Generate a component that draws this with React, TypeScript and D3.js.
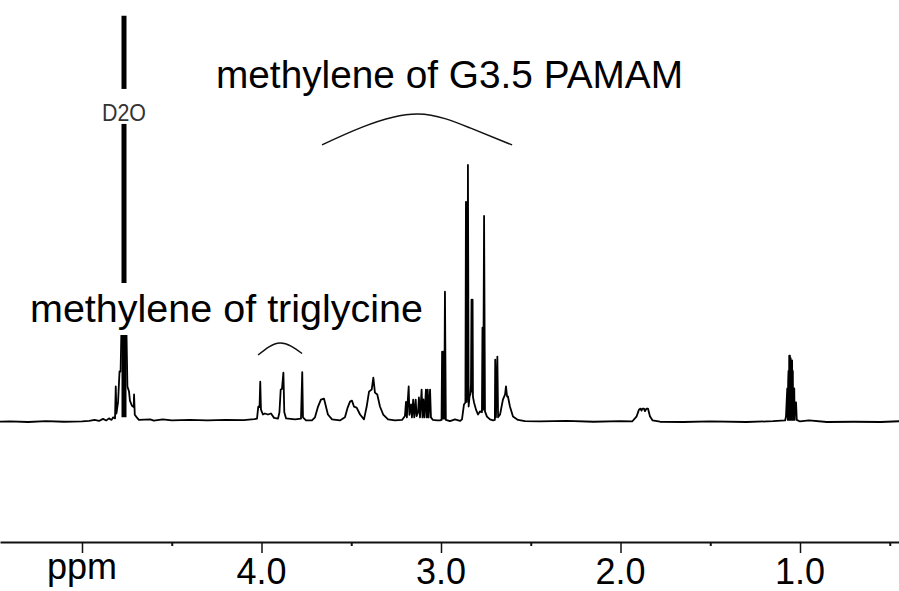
import React, { useEffect, useRef } from 'react';
import * as d3 from 'd3';

type Pt = [number, number];

// [chemical shift (ppm), intensity] — intensity scaled so the tallest PAMAM line = 100
const downfieldTrace: Pt[] = [
  [5.46, 0.3], [5.40, 0.4], [5.30, 0.2], [5.20, 0.5], [5.10, 0.3], [5.00, 0.4], [4.96, 0.6],
  [4.93, 1.0], [4.905, 0.6], [4.883, 1.4], [4.865, 0.8], [4.850, 1.6], [4.835, 1.0], [4.827, 2.0],
  [4.816, 1.6], [4.812, 14.0], [4.808, 3.5], [4.799, 8.0], [4.791, 19.8], [4.785, 19.8],
  [4.781, 34.1], [4.752, 34.1], [4.747, 14.0], [4.738, 12.0], [4.733, 8.5], [4.722, 6.5],
  [4.712, 6.0], [4.710, 10.9], [4.706, 3.0], [4.695, 2.0], [4.683, 1.0], [4.62, 1.2], [4.60, 0.7],
  [4.55, 1.2], [4.50, 0.8], [4.40, 1.0], [4.30, 0.8], [4.20, 1.0], [4.10, 0.9], [4.04, 1.3],
];

const triglycineTrace: Pt[] = [
  [4.025, 1.5], [4.018, 6.2], [4.011, 6.0], [4.007, 15.9], [4.003, 5.0], [3.992, 3.1],
  [3.981, 3.5], [3.964, 3.1], [3.947, 3.5], [3.930, 1.8], [3.908, 1.5], [3.900, 4.0],
  [3.893, 12.8], [3.886, 13.0], [3.878, 19.4], [3.873, 4.0], [3.863, 1.6], [3.813, 1.2],
  [3.780, 1.5], [3.773, 19.6], [3.769, 2.0], [3.752, 0.8],
];

const broadTrace: Pt[] = [
  [3.719, 0.8], [3.702, 2.0], [3.685, 6.2], [3.669, 8.9], [3.652, 9.3], [3.641, 6.2],
  [3.630, 3.1], [3.607, 1.2], [3.563, 0.8], [3.535, 2.0], [3.520, 5.8], [3.507, 8.1],
  [3.496, 8.5], [3.485, 6.2], [3.470, 5.8], [3.451, 3.1], [3.429, 1.2], [3.414, 6.2],
  [3.401, 12.0], [3.386, 12.8], [3.377, 17.4], [3.368, 11.6], [3.355, 10.9], [3.340, 6.2],
  [3.322, 3.1], [3.295, 1.2], [3.256, 0.8], [3.217, 1.0],
];

const clusterTrace: Pt[] = [
  [3.201, 2.5], [3.195, 8.0], [3.190, 2.0], [3.187, 6.5], [3.180, 14.0], [3.176, 3.0], [3.167, 7.0],
  [3.162, 2.0], [3.155, 8.9], [3.149, 2.0], [3.141, 8.9], [3.136, 2.5], [3.128, 3.9],
  [3.123, 9.7], [3.117, 2.0], [3.108, 12.8], [3.103, 2.0], [3.098, 9.0], [3.092, 2.0],
  [3.084, 12.8], [3.079, 2.0], [3.074, 12.8], [3.069, 2.0], [3.061, 12.8], [3.056, 2.0],
  [3.045, 1.0], [3.022, 0.8],
];

const pamamTrace: Pt[] = [
  [3.006, 0.8], [2.997, 1.0], [2.994, 27.5], [2.991, 1.5], [2.987, 27.5], [2.982, 1.5],
  [2.978, 50.8], [2.973, 1.0], [2.950, 0.5], [2.922, 1.2], [2.894, 0.6], [2.883, 1.2],
  [2.872, 7.0], [2.864, 7.8], [2.861, 85.7], [2.857, 8.0], [2.854, 85.7], [2.852, 9.0],
  [2.850, 100], [2.846, 6.2], [2.841, 10.1], [2.836, 11.0], [2.833, 14.7], [2.830, 47.7],
  [2.827, 12.0], [2.824, 47.7], [2.822, 10.0], [2.816, 7.8], [2.805, 5.0], [2.794, 3.1],
  [2.783, 4.3], [2.772, 4.0], [2.769, 36.8], [2.765, 5.0], [2.760, 80.2], [2.755, 4.3],
  [2.744, 2.3], [2.727, 1.2], [2.710, 0.8], [2.700, 1.0], [2.698, 24.4], [2.694, 2.0],
  [2.686, 25.6], [2.682, 2.0], [2.671, 3.1], [2.655, 8.9], [2.643, 10.9], [2.638, 14.0],
  [2.632, 10.1], [2.627, 10.1], [2.616, 6.2], [2.599, 2.3], [2.571, 1.0], [2.532, 0.5],
];

const upfieldTrace: Pt[] = [
  [2.45, 0.4], [2.30, 0.6], [2.15, 0.3], [2.00, 0.5], [1.935, 0.4], [1.910, 2.4], [1.897, 5.0],
  [1.889, 5.4], [1.883, 4.6], [1.878, 5.4], [1.869, 5.4], [1.864, 4.4], [1.855, 5.4],
  [1.847, 5.4], [1.836, 2.4], [1.821, 0.8], [1.78, 0.3], [1.65, 0.2], [1.50, 0.4], [1.30, 0.2],
  [1.15, 0.5], [1.083, 0.8], [1.078, 2.4], [1.071, 13.2], [1.068, 1.0], [1.066, 16.0],
  [1.064, 20.0], [1.062, 1.0], [1.060, 26.0], [1.058, 1.0], [1.056, 26.0], [1.054, 1.0],
  [1.052, 25.0], [1.050, 1.0], [1.048, 24.1], [1.046, 1.0], [1.044, 24.1], [1.042, 1.0],
  [1.040, 20.0], [1.038, 1.0], [1.036, 13.2], [1.034, 1.0], [1.032, 13.2], [1.030, 1.0],
  [1.028, 7.8], [1.022, 7.8], [1.018, 1.0], [1.000, 0.4], [0.95, 0.8], [0.85, 0.2],
  [0.70, 0.3], [0.55, 0.2], [0.44, 0.5],
];

const majorTicks = [5, 4, 3, 2, 1];
const tickLabels = ['ppm', '4.0', '3.0', '2.0', '1.0'];
const minorTicks = [4.5, 3.5, 2.5, 1.5, 0.5];

// truncated solvent line
const solventPpm = 4.766;
const solventRange: Pt = [2, 158];
const solventLabel = 'D2O';
const solventLabelLevel = 117.5;

const pamamLabel = 'methylene of G3.5 PAMAM';
const triglycineLabel = 'methylene of triglycine';
const pamamBracket: Pt[] = [[3.663, 107.8], [3.435, 114.8], [3.128, 119.8], [2.838, 114.4], [2.604, 107.8]];
const triglycineBracket: Pt[] = [[4.019, 26.2], [3.897, 30.9], [3.774, 26.8]];

const W = 899;
const H = 591;

const NmrSpectrum = () => {
  const ref = useRef<SVGSVGElement | null>(null);

  useEffect(() => {
    if (!ref.current) return;
    const svg = d3.select(ref.current);
    svg.selectAll('*').remove();

    const font = '"Liberation Sans", Arial, sans-serif';
    const x = d3.scaleLinear().domain([5, 1]).range([82, 800]);
    const y = d3.scaleLinear().domain([0, 100]).range([422.5, 165]);

    svg.append('rect').attr('width', W).attr('height', H).attr('fill', '#fff');

    // spectrum
    const trace = [...downfieldTrace, ...triglycineTrace, ...broadTrace, ...clusterTrace, ...pamamTrace, ...upfieldTrace];
    const line = d3.line<Pt>().x(d => x(d[0])).y(d => y(d[1]));
    svg.append('path')
      .datum(trace)
      .attr('d', line)
      .attr('fill', 'none')
      .attr('stroke', '#000')
      .attr('stroke-width', 1.8)
      .attr('stroke-linejoin', 'round');

    // D2O line
    svg.append('line')
      .attr('x1', x(solventPpm)).attr('x2', x(solventPpm))
      .attr('y1', y(solventRange[0])).attr('y2', y(solventRange[1]))
      .attr('stroke', '#000')
      .attr('stroke-width', 5);

    const lx = x(solventPpm);
    const ly = y(solventLabelLevel);
    svg.append('rect').attr('x', lx - 24).attr('y', ly - 31).attr('width', 48).attr('height', 35).attr('fill', '#fff');
    svg.append('text')
      .attr('x', lx).attr('y', ly + 1)
      .attr('text-anchor', 'middle')
      .attr('textLength', 44)
      .attr('lengthAdjust', 'spacingAndGlyphs')
      .style('font-family', font)
      .style('font-size', '24px')
      .style('fill', '#333')
      .text(solventLabel);

    // annotations
    svg.append('rect').attr('x', 28).attr('y', 283).attr('width', 400).attr('height', 52).attr('fill', '#fff');
    svg.append('text')
      .attr('x', 30).attr('y', 322)
      .attr('textLength', 393)
      .attr('lengthAdjust', 'spacingAndGlyphs')
      .style('font-family', font)
      .style('font-size', '38px')
      .style('fill', '#000')
      .text(triglycineLabel);

    svg.append('text')
      .attr('x', 216).attr('y', 88)
      .attr('textLength', 467)
      .attr('lengthAdjust', 'spacingAndGlyphs')
      .style('font-family', font)
      .style('font-size', '38px')
      .style('fill', '#000')
      .text(pamamLabel);

    const bracket = d3.line<Pt>().x(d => x(d[0])).y(d => y(d[1])).curve(d3.curveNatural);
    [pamamBracket, triglycineBracket].forEach(b => {
      svg.append('path')
        .datum(b)
        .attr('d', bracket)
        .attr('fill', 'none')
        .attr('stroke', '#111')
        .attr('stroke-width', 1.5);
    });

    // axis spanning the full width
    const xa = x.copy().domain([x.invert(0), x.invert(W)]).range([0, W]);
    const axisY = 542;
    const major = svg.append('g')
      .attr('transform', `translate(0,${axisY})`)
      .call(d3.axisBottom(xa).tickValues(majorTicks).tickSize(11).tickSizeOuter(0).tickFormat(() => '') as any);
    major.select('.domain').attr('stroke', '#111').attr('stroke-width', 2);
    major.selectAll('.tick line').attr('stroke', '#111').attr('stroke-width', 1.5);

    const minor = svg.append('g')
      .attr('transform', `translate(0,${axisY})`)
      .call(d3.axisBottom(xa).tickValues(minorTicks).tickSize(4).tickSizeOuter(0).tickFormat(() => '') as any);
    minor.select('.domain').remove();
    minor.selectAll('.tick line').attr('stroke', '#111').attr('stroke-width', 2);

    svg.selectAll('text.tick-label')
      .data(majorTicks)
      .enter()
      .append('text')
      .attr('class', 'tick-label')
      .attr('x', d => x(d))
      .attr('y', (d, i) => axisY + (i === 0 ? 37 : 42))
      .attr('text-anchor', 'middle')
      .style('font-family', font)
      .style('font-size', '36px')
      .style('fill', '#000')
      .text((d, i) => tickLabels[i]);
  }, []);

  return <svg ref={ref} width={W} height={H} style={{ position: 'absolute', left: 0, top: 0 }} />;
};

export default function App() {
  return <NmrSpectrum />;
}
